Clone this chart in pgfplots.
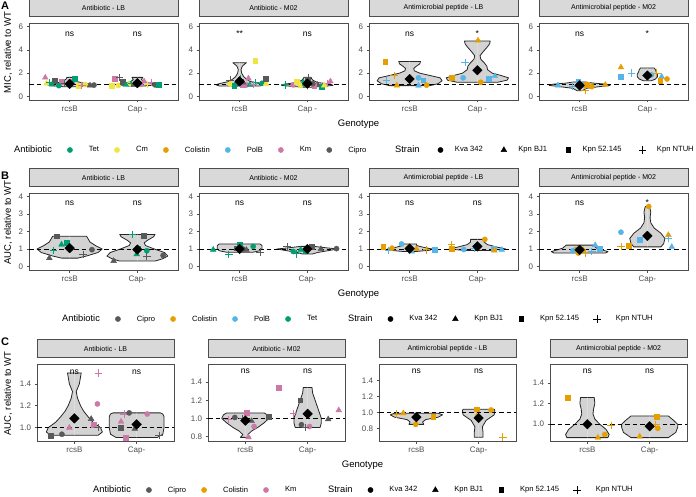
\documentclass[border=0pt]{standalone}
\usepackage{fontspec}
\setmainfont{Liberation Sans}
\usepackage{pgfplots}
\pgfplotsset{compat=1.18}

\definecolor{cTet}{HTML}{009E73}
\definecolor{cCm}{HTML}{F0E442}
\definecolor{cCol}{HTML}{E69F00}
\definecolor{cPolB}{HTML}{56B4E9}
\definecolor{cKm}{HTML}{CC79A7}
\definecolor{cCip}{HTML}{595959}
\definecolor{bord}{HTML}{4D4D4D}
\definecolor{tickc}{HTML}{4D4D4D}
\definecolor{stripc}{HTML}{D9D9D9}
\definecolor{vfill}{HTML}{D3D3D3}

\tikzset{
  nsf/.style={font=\fontsize{8.5}{9}\selectfont, anchor=base},
  mC/.style={mark=*, mark size=2.6pt},
  mT/.style={mark=triangle*, mark size=3.3pt},
  mS/.style={mark=square*, mark size=2.4pt},
  mP/.style={mark=+, mark size=3.7pt, line width=0.9pt},
}

\pgfplotsset{
  facet/.style={
    scale only axis, anchor=south west, clip=false,
    xmin=0.4, xmax=2.6, xtick={1,2},
    axis line style={draw=bord, line width=0.6pt},
    every tick/.style={draw=bord, line width=0.6pt},
    tick align=outside, major tick length=2.5pt, tick pos=left,
    ticklabel style={font=\fontsize{8}{9}\selectfont, text=tickc},
    /pgf/number format/assume math mode=true,
    title style={at={(0.5,1)}, anchor=south, fill=stripc, draw=bord, line width=0.6pt,
      inner sep=0pt, minimum height=18pt, font=\fontsize{7}{8}\selectfont},
  },
  rowAB/.style={facet, width=149pt, height=77pt, title style={minimum width=149pt}},
  rowC/.style={facet, width=137pt, height=77pt, title style={minimum width=137pt},
    yticklabel style={/pgf/number format/.cd, fixed, fixed zerofill, precision=1, assume math mode=true}},
  vst/.style={draw=black!85, fill=vfill, line width=0.8pt, mark=none, line join=round},
  pts/.style={only marks, scatter, scatter src=explicit symbolic,
    scatter/classes={
      Tc={mC,cTet}, Tt={mT,cTet}, Ts={mS,cTet}, Tp={mP,cTet},
      Yc={mC,cCm}, Yt={mT,cCm}, Ys={mS,cCm}, Yp={mP,cCm},
      Oc={mC,cCol}, Ot={mT,cCol}, Os={mS,cCol}, Op={mP,cCol},
      Bc={mC,cPolB}, Bt={mT,cPolB}, Bs={mS,cPolB}, Bp={mP,cPolB},
      Kc={mC,cKm}, Kt={mT,cKm}, Ks={mS,cKm}, Kp={mP,cKm},
      Gc={mC,cCip}, Gt={mT,cCip}, Gs={mS,cCip}, Gp={mP,cCip}}},
  meanst/.style={only marks, mark=square*, mark size=3.4pt, mark options={rotate=45}, black},
  legax/.style={hide axis, scale only axis, width=4pt, height=4pt, xmin=0, xmax=1, ymin=0, ymax=1,
    anchor=west,
    legend style={at={(0,0.5)}, anchor=west, draw=none, fill=none, legend columns=-1,
      font=\fontsize{7.6}{9}\selectfont, inner sep=0pt,
      /tikz/every even column/.append style={column sep=11pt}},
    legend image code/.code={\path[draw=none,fill=none] (0pt,0pt) -- (22pt,0pt);
      \draw[##1] plot coordinates {(5pt,0pt)};}},
  legcompact/.style={
    legend style={/tikz/every even column/.append style={column sep=14pt}},
    legend image code/.code={\path[draw=none,fill=none] (0pt,0pt) -- (17.5pt,0pt);
      \draw[##1] plot coordinates {(5pt,0pt)};}},
}

\newcommand{\vio}[4]{%
  \addplot[vst] table[x expr={#1+\thisrow{w}}, y=y, row sep=\\] {y w\\ #2 0\\ #4 #3 0\\};
  \addplot[vst] table[x expr={#1-\thisrow{w}}, y=y, row sep=\\] {y w\\ #2 0\\ #4 #3 0\\};
}
\newcommand{\refline}{\addplot[black, line width=0.9pt, dash pattern=on 4.5pt off 3pt] coordinates {(0.4,1) (2.6,1)};}
\newcommand{\legtitle}[1]{\fontsize{9.3}{11}\selectfont #1}

\begin{document}
\begin{tikzpicture}[x=1pt,y=1pt]
\useasboundingbox (0,0) rectangle (696,496);

% ---------------- Row A ----------------
\node[font=\bfseries\fontsize{11}{12}\selectfont] at (5,490) {A};
\node[rotate=90, font=\fontsize{9.5}{10}\selectfont] at (8,443.5) {MIC, relative to WT};
\node[font=\fontsize{9.5}{10}\selectfont] at (358.5,372) {Genotype};

\begin{axis}[rowAB, at={(29pt,396pt)}, ymin=-0.3, ymax=6.3, ytick={0,2,4,6},
  xticklabels={rcsB,Cap -}, title={Antibiotic - LB}]
\vio{1}{0.84}{1.64}{0.84 0.1\\0.95 0.3\\1.05 0.35\\1.15 0.2\\1.3 0.1\\1.5 0.05\\1.64 0.04\\}
\vio{2}{0.9}{1.64}{0.9 0.1\\1.0 0.3\\1.1 0.25\\1.25 0.1\\1.45 0.06\\1.64 0.08\\}
\refline
\addplot[pts] table[meta=k, row sep=\\] {x y k\\
0.64 1.62 Kt\\ 0.66 1.12 Yt\\ 0.70 1.18 Tp\\ 0.78 1.36 Gs\\ 0.88 1.24 Ks\\ 0.84 0.93 Tc\\
0.74 1.02 Tt\\ 0.93 1.10 Gp\\ 1.04 1.28 Kc\\ 1.07 1.55 Ts\\ 1.13 0.95 Ys\\ 1.23 1.02 Yc\\
1.18 0.96 Kp\\ 1.36 0.98 Gc\\ 1.30 0.95 Gt\\ 0.98 1.05 Yp\\
1.62 0.90 Ys\\ 1.67 1.55 Ks\\ 1.74 1.64 Gp\\ 1.72 0.95 Yc\\ 1.78 1.30 Gs\\ 1.87 1.05 Yt\\
1.92 1.12 Tp\\ 1.99 1.10 Tc\\ 2.10 1.30 Kt\\ 2.21 1.20 Kp\\ 2.26 1.00 Gc\\ 2.32 0.98 Ts\\
2.05 1.05 Kc\\ 1.95 0.98 Gt\\ 1.83 1.00 Tt\\ 2.15 1.02 Yp\\};
\addplot[meanst] coordinates {(1,1.08) (2,1.15)};
\node[nsf] at (axis cs:1,5.18) {ns};
\node[nsf] at (axis cs:2,5.18) {ns};
\end{axis}

\begin{axis}[rowAB, at={(199pt,396pt)}, ymin=-0.3, ymax=6.3, ytick={0,2,4,6},
  xticklabels={rcsB,Cap -}, title={Antibiotic - M02}]
\vio{1}{0.9}{2.9}{0.9 0.3\\1.0 0.35\\1.1 0.3\\1.3 0.15\\1.5 0.1\\1.7 0.06\\2.0 0.03\\2.3 0.02\\2.6 0.04\\2.8 0.08\\2.9 0.1\\}
\vio{2}{0.8}{1.65}{0.8 0.05\\0.85 0.2\\0.95 0.38\\1.05 0.35\\1.2 0.15\\1.4 0.08\\1.55 0.06\\1.65 0.05\\}
\refline
\addplot[pts] table[meta=k, row sep=\\] {x y k\\
0.86 1.40 Gp\\ 0.86 1.08 Yc\\ 1.01 1.50 Tp\\ 1.00 1.27 Yp\\ 1.13 1.55 Kt\\ 1.10 0.99 Kc\\
1.04 1.00 Ks\\ 1.23 1.20 Tp\\ 1.23 3.04 Ys\\ 1.33 1.13 Tc\\ 1.39 1.10 Yt\\ 1.38 1.50 Gs\\
0.95 1.05 Gc\\ 1.05 1.20 Gt\\ 1.15 1.00 Tt\\ 1.20 1.05 Kp\\ 0.92 0.95 Ts\\
1.67 1.00 Tp\\ 1.79 1.00 Kc\\ 1.84 1.30 Ys\\ 2.01 1.40 Gs\\ 2.02 1.65 Gp\\ 1.94 1.22 Tt\\
1.90 0.95 Yc\\ 2.00 0.88 Yp\\ 2.21 0.85 Ts\\ 2.34 1.30 Kt\\ 2.30 1.10 Kp\\ 2.15 1.00 Gt\\
1.96 1.05 Tc\\ 2.10 0.95 Ks\\ 2.25 0.95 Yt\\ 2.08 1.10 Gc\\};
\addplot[meanst] coordinates {(1,1.3) (2,1.1)};
\node[nsf] at (axis cs:1,5.18) {**};
\node[nsf] at (axis cs:2,5.18) {ns};
\end{axis}

\begin{axis}[rowAB, at={(369pt,396pt)}, ymin=-0.3, ymax=6.3, ytick={0,2,4,6},
  xticklabels={rcsB,Cap -}, title={Antimicrobial peptide - LB}]
\vio{1}{0.93}{3.0}{0.93 0.3\\1.1 0.42\\1.35 0.48\\1.6 0.45\\1.8 0.3\\2.0 0.15\\2.2 0.07\\2.4 0.06\\2.6 0.1\\2.8 0.15\\3.0 0.16\\}
\vio{2}{1.22}{4.75}{1.22 0.3\\1.4 0.44\\1.6 0.46\\1.8 0.35\\2.0 0.22\\2.3 0.15\\2.6 0.14\\2.9 0.1\\3.2 0.05\\3.5 0.04\\3.8 0.08\\4.2 0.14\\4.5 0.18\\4.75 0.19\\}
\refline
\addplot[pts] table[meta=k, row sep=\\] {x y k\\
0.64 3.00 Os\\ 0.77 1.80 Op\\ 0.66 1.35 Bp\\ 0.81 0.95 Ot\\ 1.13 1.60 Bc\\ 1.20 1.40 Bs\\
1.13 0.93 Bt\\ 1.25 0.97 Oc\\
1.62 1.60 Os\\ 1.79 1.60 Bc\\ 1.82 2.90 Bp\\ 2.01 4.80 Ot\\ 2.05 1.22 Oc\\ 2.17 1.55 Bs\\
2.26 1.75 Bt\\};
\addplot[meanst] coordinates {(1,1.5) (2,2.25)};
\node[nsf] at (axis cs:1,5.18) {ns};
\node[nsf] at (axis cs:2,5.18) {*};
\end{axis}

\begin{axis}[rowAB, at={(539pt,396pt)}, ymin=-0.3, ymax=6.3, ytick={0,2,4,6},
  xticklabels={rcsB,Cap -}, title={Antimicrobial peptide - M02}]
\vio{1}{0.5}{1.25}{0.5 0.04\\0.7 0.1\\0.85 0.3\\0.95 0.45\\1.05 0.4\\1.15 0.2\\1.25 0.08\\}
\vio{2}{1.35}{2.45}{1.35 0.06\\1.5 0.12\\1.7 0.15\\1.9 0.15\\2.1 0.13\\2.3 0.12\\2.45 0.1\\}
\refline
\addplot[pts] table[meta=k, row sep=\\] {x y k\\
0.68 0.95 Bt\\ 0.98 1.25 Bs\\ 1.08 0.50 Op\\ 1.18 0.85 Oc\\ 1.38 1.00 Ot\\ 1.05 0.95 Bc\\
0.90 0.90 Bp\\ 1.10 1.00 Os\\
1.61 2.50 Ot\\ 1.61 1.70 Bs\\ 1.77 2.00 Bp\\ 2.06 1.85 Bc\\ 2.14 2.00 Op\\ 2.21 1.70 Bt\\
2.19 1.35 Os\\ 2.29 1.50 Oc\\};
\addplot[meanst] coordinates {(1,0.95) (2,1.8)};
\node[nsf] at (axis cs:1,5.18) {ns};
\node[nsf] at (axis cs:2,5.18) {*};
\end{axis}

\begin{axis}[legax, at={(12pt,346pt)}]
\addlegendimage{empty legend}\addlegendentry{\legtitle{Antibiotic}}
\addlegendimage{only marks, mC, cTet}\addlegendentry{Tet}
\addlegendimage{only marks, mC, cCm}\addlegendentry{Cm}
\addlegendimage{only marks, mC, cCol}\addlegendentry{Colistin}
\addlegendimage{only marks, mC, cPolB}\addlegendentry{PolB}
\addlegendimage{only marks, mC, cKm}\addlegendentry{Km}
\addlegendimage{only marks, mC, cCip}\addlegendentry{Cipro}
\end{axis}
\begin{axis}[legax, legcompact, at={(393pt,346pt)}]
\addlegendimage{empty legend}\addlegendentry{\legtitle{Strain}}
\addlegendimage{only marks, mC, black}\addlegendentry{Kva 342}
\addlegendimage{only marks, mT, black}\addlegendentry{Kpn BJ1}
\addlegendimage{only marks, mS, black}\addlegendentry{Kpn 52.145}
\addlegendimage{only marks, mP, black}\addlegendentry{Kpn NTUH}
\end{axis}

% ---------------- Row B ----------------
\node[font=\bfseries\fontsize{11}{12}\selectfont] at (5,320) {B};
\node[rotate=90, font=\fontsize{9.5}{10}\selectfont] at (8,273.5) {AUC, relative to WT};
\node[font=\fontsize{9.5}{10}\selectfont] at (358.5,202) {Genotype};

\begin{axis}[rowAB, at={(29pt,226pt)}, ymin=-0.2, ymax=4.2, ytick={0,1,2,3,4},
  xticklabels={rcsB,Cap-}, title={Antibiotic - LB}]
\vio{1}{0.48}{1.73}{0.48 0.12\\0.6 0.25\\0.8 0.42\\1.0 0.48\\1.2 0.38\\1.4 0.3\\1.6 0.27\\1.73 0.25\\}
\vio{2}{0.32}{1.83}{0.32 0.27\\0.45 0.38\\0.6 0.45\\0.8 0.4\\1.0 0.25\\1.2 0.12\\1.35 0.1\\1.5 0.15\\1.7 0.24\\1.83 0.26\\}
\refline
\addplot[pts] table[meta=k, row sep=\\] {x y k\\
0.70 0.48 Gt\\ 0.76 0.90 Tp\\ 0.88 1.25 Tt\\ 0.96 1.35 Ts\\ 0.81 1.73 Gs\\ 1.02 1.05 Tc\\
1.20 0.67 Gp\\ 1.33 0.96 Gc\\
1.65 0.32 Gt\\ 1.93 1.83 Tp\\ 2.09 1.78 Gs\\ 2.00 1.05 Ts\\ 1.99 0.70 Tt\\ 2.14 0.90 Tc\\
2.14 0.57 Gp\\ 2.38 0.63 Gc\\};
\addplot[meanst] coordinates {(1,1.05) (2,0.97)};
\node[nsf] at (axis cs:1,3.46) {ns};
\node[nsf] at (axis cs:2,3.46) {ns};
\end{axis}

\begin{axis}[rowAB, at={(199pt,226pt)}, ymin=-0.2, ymax=4.2, ytick={0,1,2,3,4},
  xticklabels={rcsB,Cap-}, title={Antibiotic - M02}]
\vio{1}{0.82}{1.29}{0.82 0.2\\0.9 0.3\\1.0 0.33\\1.2 0.33\\1.29 0.3\\}
\vio{2}{0.72}{1.15}{0.72 0.08\\0.8 0.15\\0.9 0.3\\1.0 0.45\\1.08 0.25\\1.15 0.1\\}
\refline
\addplot[pts] table[meta=k, row sep=\\] {x y k\\
0.61 0.96 Tt\\ 0.84 0.70 Tp\\ 1.00 1.27 Ts\\ 1.20 1.15 Tc\\ 0.95 1.05 Gs\\ 1.05 1.00 Gc\\
1.30 0.82 Gp\\ 1.10 0.95 Gt\\
1.70 1.15 Gp\\ 1.79 0.86 Tc\\ 1.84 0.72 Tp\\ 1.97 0.90 Ts\\ 2.06 1.15 Gs\\ 2.43 1.02 Gc\\
2.20 1.00 Gt\\ 1.90 0.95 Tt\\};
\addplot[meanst] coordinates {(1,1.0) (2,1.0)};
\node[nsf] at (axis cs:1,3.46) {ns};
\node[nsf] at (axis cs:2,3.46) {ns};
\end{axis}

\begin{axis}[rowAB, at={(369pt,226pt)}, ymin=-0.2, ymax=4.2, ytick={0,1,2,3,4},
  xticklabels={rcsB,Cap-}, title={Antimicrobial peptide - LB}]
\vio{1}{0.86}{1.29}{0.86 0.1\\0.93 0.3\\1.0 0.33\\1.1 0.2\\1.2 0.1\\1.29 0.1\\}
\vio{2}{0.92}{1.55}{0.92 0.2\\1.0 0.42\\1.1 0.3\\1.25 0.15\\1.4 0.1\\1.55 0.1\\}
\refline
\addplot[pts] table[meta=k, row sep=\\] {x y k\\
0.61 1.15 Os\\ 0.69 0.90 Bp\\ 0.74 1.05 Oc\\ 0.88 1.29 Bc\\ 1.03 0.86 Bt\\ 1.25 0.95 Op\\
1.37 0.96 Bs\\ 1.10 1.00 Ot\\
1.62 1.25 Op\\ 1.62 1.00 Os\\ 1.80 0.97 Bc\\ 2.11 1.55 Oc\\ 2.24 1.00 Bs\\ 2.25 0.92 Ot\\
2.36 0.95 Bt\\ 1.95 1.05 Bp\\};
\addplot[meanst] coordinates {(1,1.02) (2,1.15)};
\node[nsf] at (axis cs:1,3.46) {ns};
\node[nsf] at (axis cs:2,3.46) {ns};
\end{axis}

\begin{axis}[rowAB, at={(539pt,226pt)}, ymin=-0.2, ymax=4.2, ytick={0,1,2,3,4},
  xticklabels={rcsB,Cap-}, title={Antimicrobial peptide - M02}]
\vio{1}{0.77}{1.22}{0.77 0.38\\0.85 0.42\\0.95 0.33\\1.05 0.25\\1.15 0.22\\1.22 0.2\\}
\vio{2}{1.12}{3.43}{1.12 0.2\\1.3 0.24\\1.6 0.26\\1.9 0.2\\2.2 0.1\\2.5 0.05\\2.8 0.04\\3.1 0.05\\3.3 0.04\\3.43 0.03\\}
\refline
\addplot[pts] table[meta=k, row sep=\\] {x y k\\
0.96 0.96 Os\\ 0.98 0.77 Oc\\ 1.08 0.78 Op\\ 1.18 0.85 Bp\\ 1.23 1.22 Bt\\ 1.30 1.00 Bs\\
0.90 0.90 Bc\\ 1.05 0.95 Ot\\
1.61 1.96 Bc\\ 1.61 1.15 Op\\ 1.73 1.20 Os\\ 1.89 1.54 Bs\\ 2.02 3.43 Oc\\ 2.31 1.80 Ot\\
2.31 1.60 Bp\\ 2.36 1.12 Bt\\};
\addplot[meanst] coordinates {(1,0.95) (2,1.75)};
\node[nsf] at (axis cs:1,3.46) {ns};
\node[nsf] at (axis cs:2,3.46) {*};
\end{axis}

\begin{axis}[legax, at={(60pt,177pt)}]
\addlegendimage{empty legend}\addlegendentry{\legtitle{Antibiotic}}
\addlegendimage{only marks, mC, cCip}\addlegendentry{Cipro}
\addlegendimage{only marks, mC, cCol}\addlegendentry{Colistin}
\addlegendimage{only marks, mC, cPolB}\addlegendentry{PolB}
\addlegendimage{only marks, mC, cTet}\addlegendentry{Tet}
\end{axis}
\begin{axis}[legax, at={(346pt,177pt)}]
\addlegendimage{empty legend}\addlegendentry{\legtitle{Strain}}
\addlegendimage{only marks, mC, black}\addlegendentry{Kva 342}
\addlegendimage{only marks, mT, black}\addlegendentry{Kpn BJ1}
\addlegendimage{only marks, mS, black}\addlegendentry{Kpn 52.145}
\addlegendimage{only marks, mP, black}\addlegendentry{Kpn NTUH}
\end{axis}

% ---------------- Row C ----------------
\node[font=\bfseries\fontsize{11}{12}\selectfont] at (5,154) {C};
\node[rotate=90, font=\fontsize{9.5}{10}\selectfont] at (8,102.5) {AUC, relative to WT};
\node[font=\fontsize{9.5}{10}\selectfont] at (362.5,31) {Genotype};

\begin{axis}[rowC, at={(37pt,55pt)}, ymin=0.878, ymax=1.582, ytick={1.0,1.2,1.4},
  xticklabels={rcsB,Cap-}, title={Antibiotic - LB}]
\vio{1}{0.93}{1.5}{0.93 0.38\\0.96 0.45\\1.0 0.42\\1.05 0.3\\1.1 0.22\\1.15 0.15\\1.2 0.1\\1.27 0.05\\1.33 0.03\\1.4 0.08\\1.5 0.11\\}
\vio{2}{0.91}{1.135}{0.91 0.33\\0.94 0.42\\1.0 0.44\\1.1 0.44\\1.125 0.42\\1.135 0.38\\}
\refline
\addplot[pts] table[meta=k, row sep=\\] {x y k\\
0.62 0.93 Gs\\ 0.80 0.94 Gc\\ 0.92 1.00 Kt\\ 1.27 1.08 Gt\\ 1.31 1.025 Ks\\ 1.37 1.217 Kc\\
1.39 1.50 Kp\\ 1.38 1.00 Gp\\
1.74 1.00 Gs\\ 1.82 0.91 Ks\\ 1.75 1.055 Kt\\ 1.80 1.125 Kp\\ 1.88 1.135 Gc\\ 1.97 0.99 Gt\\
2.17 1.125 Kc\\ 2.36 0.93 Gp\\};
\addplot[meanst] coordinates {(1,1.085) (2,1.03)};
\node[nsf] at (axis cs:1,1.49) {ns};
\node[nsf] at (axis cs:2,1.49) {ns};
\end{axis}

\begin{axis}[rowC, at={(208pt,55pt)}, ymin=0.75, ymax=1.6, ytick={0.8,1.0,1.2,1.4},
  xticklabels={rcsB,Cap-}, title={Antibiotic - M02}]
\vio{1}{0.79}{1.06}{0.79 0.08\\0.82 0.04\\0.86 0.1\\0.9 0.2\\0.95 0.3\\1.0 0.38\\1.04 0.35\\1.06 0.3\\}
\vio{2}{0.9}{1.34}{0.9 0.2\\0.95 0.22\\1.0 0.22\\1.1 0.17\\1.2 0.12\\1.28 0.08\\1.34 0.07\\}
\refline
\addplot[pts] table[meta=k, row sep=\\] {x y k\\
0.73 0.99 Kp\\ 0.83 1.01 Gc\\ 1.02 1.06 Ks\\ 1.14 0.91 Kc\\ 1.05 0.79 Kt\\ 1.38 1.02 Gs\\
1.10 0.97 Gt\\ 0.95 1.00 Gp\\
1.53 1.34 Ks\\ 1.88 1.20 Gs\\ 1.77 1.05 Kp\\ 1.90 0.93 Gc\\ 2.03 0.91 Kc\\ 2.33 0.99 Gt\\
2.50 1.09 Kt\\ 1.97 0.90 Gp\\};
\addplot[meanst] coordinates {(1,0.975) (2,1.05)};
\node[nsf] at (axis cs:1,1.49) {ns};
\node[nsf] at (axis cs:2,1.49) {ns};
\end{axis}

\begin{axis}[rowC, at={(379pt,55pt)}, ymin=0.642, ymax=1.606, ytick={0.8,1.0,1.2,1.4},
  xticklabels={rcsB,Cap-}, title={Antimicrobial peptide - LB}]
\vio{1}{0.85}{0.99}{0.85 0.12\\0.88 0.1\\0.91 0.15\\0.94 0.35\\0.97 0.42\\0.99 0.35\\}
\vio{2}{0.69}{1.04}{0.69 0.07\\0.75 0.07\\0.82 0.06\\0.9 0.12\\0.97 0.25\\1.02 0.26\\1.04 0.25\\}
\refline
\addplot[pts] table[meta=k, row sep=\\] {x y k\\
0.68 0.98 Op\\ 0.79 0.99 Ot\\ 0.99 0.85 Oc\\ 1.27 0.945 Os\\
1.97 1.04 Os\\ 1.97 0.95 Ot\\ 2.20 1.03 Oc\\ 2.39 0.69 Op\\};
\addplot[meanst] coordinates {(1,0.94) (2,0.93)};
\node[nsf] at (axis cs:1,1.49) {ns};
\node[nsf] at (axis cs:2,1.49) {ns};
\end{axis}

\begin{axis}[rowC, at={(550pt,55pt)}, ymin=0.837, ymax=1.585, ytick={1.0,1.2,1.4},
  xticklabels={rcsB,Cap-}, title={Antimicrobial peptide - M02}]
\vio{1}{0.87}{1.26}{0.87 0.33\\0.9 0.35\\0.95 0.3\\1.0 0.2\\1.05 0.12\\1.1 0.09\\1.15 0.1\\1.2 0.12\\1.26 0.11\\}
\vio{2}{0.87}{1.08}{0.87 0.3\\0.92 0.42\\0.97 0.45\\1.0 0.45\\1.04 0.38\\1.08 0.3\\}
\refline
\addplot[pts] table[meta=k, row sep=\\] {x y k\\
0.68 1.26 Os\\ 1.17 0.87 Ot\\ 1.28 0.90 Oc\\ 1.38 0.99 Op\\
1.84 0.88 Ot\\ 2.11 1.07 Os\\ 2.13 0.96 Oc\\ 2.10 1.00 Op\\};
\addplot[meanst] coordinates {(1,1.0) (2,0.98)};
\node[nsf] at (axis cs:1,1.49) {ns};
\node[nsf] at (axis cs:2,1.49) {ns};
\end{axis}

\begin{axis}[legax, at={(91pt,6pt)}]
\addlegendimage{empty legend}\addlegendentry{\legtitle{Antibiotic}}
\addlegendimage{only marks, mC, cCip}\addlegendentry{Cipro}
\addlegendimage{only marks, mC, cCol}\addlegendentry{Colistin}
\addlegendimage{only marks, mC, cKm}\addlegendentry{Km}
\end{axis}
\begin{axis}[legax, at={(326pt,6pt)}]
\addlegendimage{empty legend}\addlegendentry{\legtitle{Strain}}
\addlegendimage{only marks, mC, black}\addlegendentry{Kva 342}
\addlegendimage{only marks, mT, black}\addlegendentry{Kpn BJ1}
\addlegendimage{only marks, mS, black}\addlegendentry{Kpn 52.145}
\addlegendimage{only marks, mP, black}\addlegendentry{Kpn NTUH}
\end{axis}
\end{tikzpicture}
\end{document}
